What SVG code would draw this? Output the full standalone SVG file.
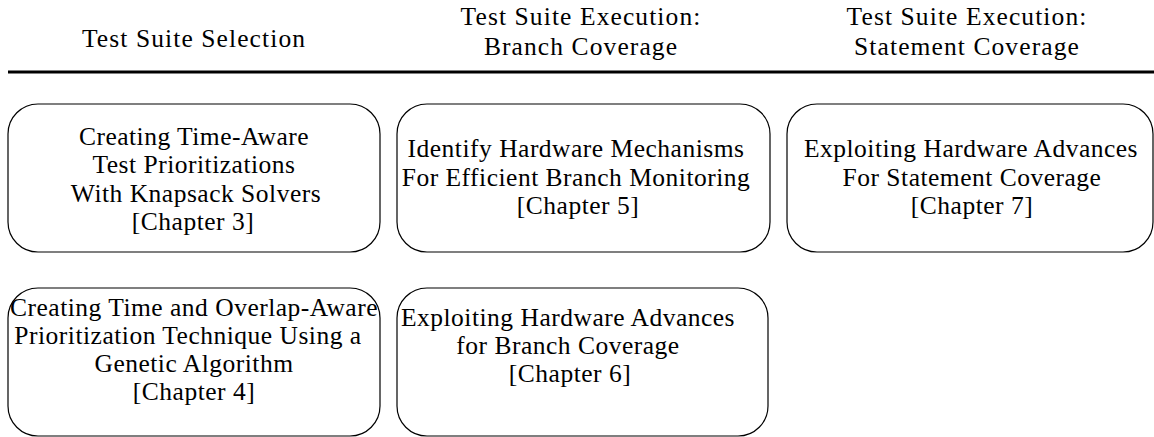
<svg xmlns="http://www.w3.org/2000/svg" width="1154" height="437" viewBox="0 0 1154 437">
<style>
text{font-family:"Liberation Serif","DejaVu Serif",serif;font-size:25.5px;letter-spacing:0.5px;fill:#000;text-anchor:middle}
#headers text{letter-spacing:1.1px}
.box{fill:#fff;stroke:#000;stroke-width:1.2}
</style>
<rect width="1154" height="437" fill="#fff"/>
<g id="headers">
<text x="194" y="47">Test Suite Selection</text>
<text x="581" y="25">Test Suite Execution:</text>
<text x="581" y="55">Branch Coverage</text>
<text x="967" y="25">Test Suite Execution:</text>
<text x="967" y="55">Statement Coverage</text>
<line x1="8" y1="72" x2="1154" y2="72" stroke="#000" stroke-width="3"/>
</g>
<g id="connectors"></g>
<g id="n1"><rect class="box" x="8" y="104" width="372" height="148" rx="30"/>
<text x="194" y="145">Creating Time-Aware</text>
<text x="194" y="173">Test Prioritizations</text>
<text x="196" y="202">With Knapsack Solvers</text>
<text x="193" y="230">[Chapter 3]</text></g>
<g id="n2"><rect class="box" x="397" y="104" width="373" height="148" rx="30"/>
<text x="576" y="157">Identify Hardware Mechanisms</text>
<text x="576" y="186">For Efficient Branch Monitoring</text>
<text x="578" y="214">[Chapter 5]</text></g>
<g id="n3"><rect class="box" x="787" y="104" width="366" height="148" rx="30"/>
<text x="971" y="157">Exploiting Hardware Advances</text>
<text x="972" y="186">For Statement Coverage</text>
<text x="972" y="214">[Chapter 7]</text></g>
<g id="n4"><rect class="box" x="8" y="288" width="372" height="148" rx="30"/>
<text x="194" y="316">Creating Time and Overlap-Aware</text>
<text x="188" y="344">Prioritization Technique Using a</text>
<text x="194" y="372">Genetic Algorithm</text>
<text x="194" y="400">[Chapter 4]</text></g>
<g id="n5"><rect class="box" x="397" y="288" width="371" height="148" rx="30"/>
<text x="568" y="326">Exploiting Hardware Advances</text>
<text x="568" y="354">for Branch Coverage</text>
<text x="570" y="382">[Chapter 6]</text></g>
</svg>
